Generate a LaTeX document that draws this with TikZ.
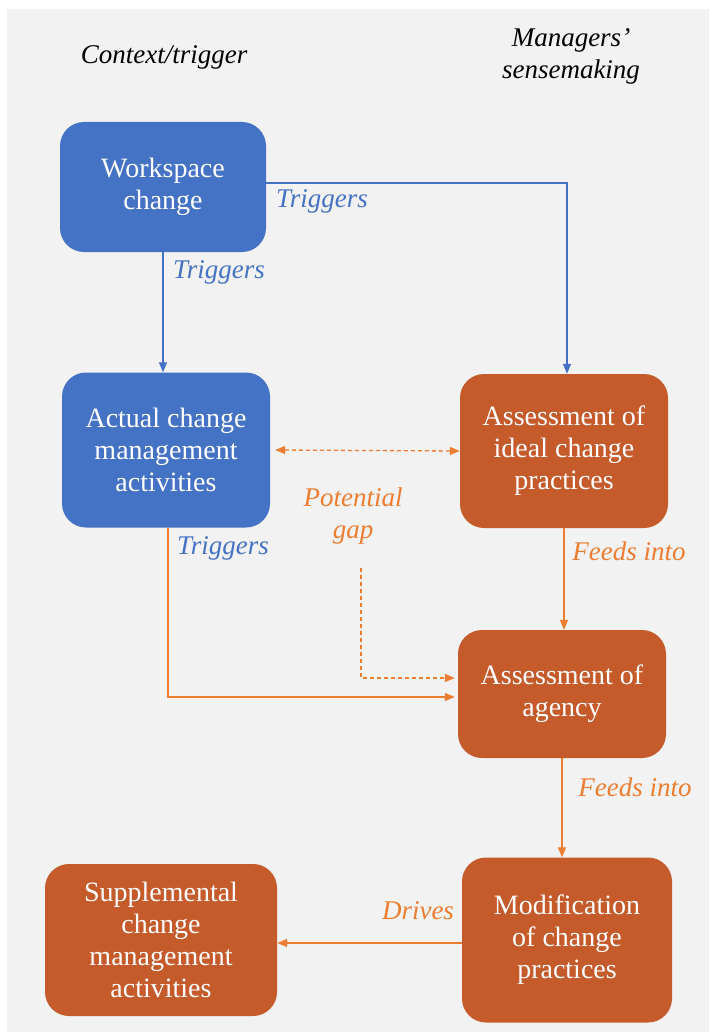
\documentclass[tikz,border=0pt]{standalone}
\usepackage{fontspec}
\setmainfont{Liberation Serif}
\usetikzlibrary{arrows.meta}
\definecolor{bluefill}{HTML}{4472C4}
\definecolor{orangefill}{HTML}{C55A2B}
\definecolor{orangeline}{HTML}{ED7D31}
\definecolor{panel}{HTML}{F2F2F2}
\tikzset{
  box/.style={rounded corners=24pt,text=white,align=center,inner sep=4pt,
    font=\fontsize{28}{32}\selectfont},
  bluebox/.style={box,fill=bluefill},
  orangebox/.style={box,fill=orangefill},
  lbl/.style={font=\fontsize{27}{32}\selectfont\itshape,align=center},
  bluearrow/.style={draw=bluefill,line width=1.3pt,-{Triangle[length=10pt,width=8pt]}},
  orangearrow/.style={draw=orangeline,line width=1.3pt,-{Triangle[length=10pt,width=8pt]}},
  gaparrow/.style={orangearrow,dash pattern=on 4pt off 3pt}
}
\begin{document}
\begin{tikzpicture}[x=1pt,y=-1pt]
\useasboundingbox (0,0) rectangle (709,1035);
\fill[panel] (7,9) rectangle (709,1032);
% column headings
\node[lbl] (ctx) at (164,57) {Context/trigger};
\node[lbl] (mgr) at (571,56) {Managers'\\sensemaking};
% boxes
\node[bluebox,minimum width=206pt,minimum height=130pt] (ws) at (163,187) {Workspace\\change};
\node[bluebox,minimum width=208pt,minimum height=155pt] (act) at (166,450) {Actual change\\management\\activities};
\node[orangebox,minimum width=208pt,minimum height=154pt] (ideal) at (564,451) {Assessment of\\ideal change\\practices};
\node[orangebox,minimum width=208pt,minimum height=128pt] (agency) at (562,694) {Assessment of\\agency};
\node[orangebox,minimum width=210pt,minimum height=165pt] (mod) at (567,940) {Modification\\of change\\practices};
\node[orangebox,minimum width=232pt,minimum height=152pt] (supp) at (161,940) {Supplemental\\change\\management\\activities};
% connectors
\draw[bluearrow] ([yshift=4pt]ws.east) -| ([xshift=3pt]ideal.north);
\draw[bluearrow] (ws.south) -- (ws.south |- act.north);
\draw[gaparrow,{Triangle[length=10pt,width=8pt]}-{Triangle[length=10pt,width=8pt]}] ([xshift=5pt]act.east) -- (ideal.west);
\coordinate (gapstart) at (361,568);
\draw[gaparrow] (gapstart) |- ([xshift=-3pt,yshift=16pt]agency.west);
\draw[orangearrow] ([xshift=2pt]act.south) |- ([xshift=-3pt,yshift=-3pt]agency.west);
\draw[orangearrow] (ideal.south) -- (ideal.south |- agency.north);
\draw[orangearrow] (agency.south) -- (agency.south |- mod.north);
\draw[orangearrow] ([yshift=-3pt]mod.west) -- ([yshift=-3pt]supp.east);
% labels
\node[lbl,text=bluefill] (t1) at (322,201) {Triggers};
\node[lbl,text=bluefill] (t2) at (219,272) {Triggers};
\node[lbl,text=bluefill] (t3) at (223,548) {Triggers};
\node[lbl,text=orangeline] (gap) at (353,516) {Potential\\gap};
\node[lbl,text=orangeline] (f1) at (629,551) {Feeds into};
\node[lbl,text=orangeline] (f2) at (635,787) {Feeds into};
\node[lbl,text=orangeline] (dr) at (418,911) {Drives};
\end{tikzpicture}
\end{document}
